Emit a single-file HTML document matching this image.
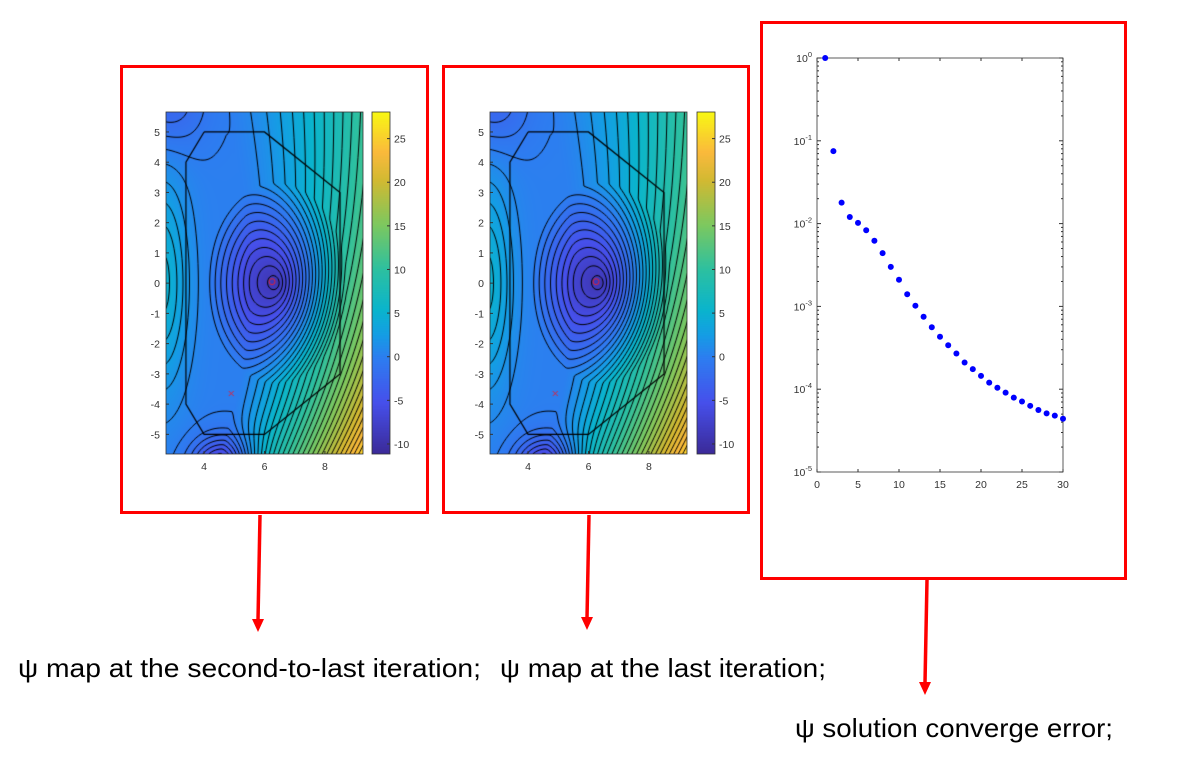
<!DOCTYPE html>
<html><head><meta charset="utf-8">
<style>
html,body{margin:0;padding:0;background:#fff;}
body{width:1188px;height:759px;position:relative;overflow:hidden;font-family:"Liberation Sans",sans-serif;}
.frame{position:absolute;border:3px solid #ff0000;box-sizing:border-box;}
canvas{position:absolute;}
svg{position:absolute;left:0;top:0;}
</style></head>
<body>
<div class="frame" style="left:120px;top:65px;width:309px;height:449px;"></div>
<div class="frame" style="left:442px;top:65px;width:308px;height:449px;"></div>
<div class="frame" style="left:760px;top:21px;width:367px;height:559px;"></div>
<canvas id="c1" width="197" height="342" style="left:166px;top:112px;"></canvas>
<canvas id="c2" width="197" height="342" style="left:490px;top:112px;"></canvas>
<canvas id="cb1" width="18" height="342" style="left:372px;top:112px;"></canvas>
<canvas id="cb2" width="18" height="342" style="left:697px;top:112px;"></canvas>
<svg id="s" width="1188" height="759" xmlns="http://www.w3.org/2000/svg"></svg>
<script>
// convergence data
const iterations=[1,2,3,4,5,6,7,8,9,10,11,12,13,14,15,16,17,18,19,20,21,22,23,24,25,26,27,28,29,30];
const errors=[1,0.075,0.0179,0.012,0.0102,0.0083,0.0062,0.0044,0.003,0.0021,0.0014,0.00102,0.00075,0.00056,0.00043,0.00034,0.00027,0.00021,0.000175,0.000145,0.00012,0.000104,0.000091,0.000079,0.000071,0.000063,0.000056,0.000051,0.000048,0.000044];
const xTicks=[0,5,10,15,20,25,30];
const yExps=[0,-1,-2,-3,-4,-5];
const cbTicks=[-10,-5,0,5,10,15,20,25];
const rTicks=[4,6,8];
const zTicks=[5,4,3,2,1,0,-1,-2,-3,-4,-5];
const wall=[[4,5],[6,5],[8.5,3],[8.5,-3],[6,-5],[4,-5],[3.4,-4],[3.4,4],[4,5]];
const axisPos=[6.25,0.05];
const xPoint=[4.9,-3.65];

const NS="http://www.w3.org/2000/svg";
const svg=document.getElementById('s');
function el(tag,attrs,parent){const e=document.createElementNS(NS,tag);for(const k in attrs)e.setAttribute(k,attrs[k]);(parent||svg).appendChild(e);return e;}

function psi(R,Z,k){
  const rho=Math.sqrt(((R-6.4)/2.3)**2+(Z/3.3)**2);
  let v=-11.5*Math.max(0,1-rho)**1.05;
  const d=Math.max(0,R-5.5+0.03*Z*Z);
  v+=2.4*Math.pow(d,1.3) - 0.28*Z*d;
  v+=5*Math.exp(-((R-2.6)**2/0.8+Z*Z/12));
  v-=7.5*Math.exp(-((R-4.6)**2/1.0+(Z+6.1)**2/0.9));
  v-=3*Math.exp(-((R-2.8)**2/1.5+(Z-6)**2/2.5));
  return v*(k||1);
}
const vmin=-11.15,vmax=28.05;
const stops=[[0,[59,42,152]],[0.15,[70,80,235]],[0.28,[45,125,240]],[0.35,[20,158,228]],[0.42,[10,180,205]],[0.54,[45,192,160]],[0.67,[125,200,95]],[0.8,[210,185,50]],[0.88,[250,185,60]],[1,[248,248,20]]];
function cmap(v){let t=(v-vmin)/(vmax-vmin);t=Math.max(0,Math.min(1,t));for(let i=1;i<stops.length;i++){if(t<=stops[i][0]){const a=stops[i-1],b=stops[i];const f=(t-a[0])/(b[0]-a[0]);return a[1].map((c,j)=>Math.round(c+(b[1][j]-c)*f));}}return stops[stops.length-1][1];}
const W=197,H=342,R0=2.74,R1=9.26,Z0=5.66,Z1=-5.65;
function sx(R){return (R-R0)/(R1-R0)*W;}
function sy(Z){return (Z-Z0)/(Z1-Z0)*H;}
function drawMap(id,k){
  const c=document.getElementById(id),ctx=c.getContext('2d');
  const img=ctx.createImageData(W,H);
  for(let y=0;y<H;y++)for(let x=0;x<W;x++){
    const R=R0+(x+0.5)/W*(R1-R0),Z=Z0+(y+0.5)/H*(Z1-Z0);
    const col=cmap(psi(R,Z,k));const i=(y*W+x)*4;
    img.data[i]=col[0];img.data[i+1]=col[1];img.data[i+2]=col[2];img.data[i+3]=255;}
  ctx.putImageData(img,0,0);
  const st=2,nx=Math.ceil(W/st)+1,ny=Math.ceil(H/st)+1,g=[];
  for(let j=0;j<ny;j++){g.push([]);for(let i=0;i<nx;i++){g[j].push(psi(R0+i*st/W*(R1-R0),Z0+j*st/H*(Z1-Z0),k));}}
  ctx.strokeStyle='#000';ctx.lineWidth=1;ctx.beginPath();
  for(let L=-10.6;L<28;L+=0.95){
    for(let j=0;j<ny-1;j++)for(let i=0;i<nx-1;i++){
      const a=g[j][i],b=g[j][i+1],c2=g[j+1][i+1],d=g[j+1][i];
      const pts=[];
      const e=(p,q,x1,y1,x2,y2)=>{if((p<L)!==(q<L)){const f=(L-p)/(q-p);pts.push([x1+(x2-x1)*f,y1+(y2-y1)*f]);}};
      const X=i*st,Y=j*st;
      e(a,b,X,Y,X+st,Y);e(b,c2,X+st,Y,X+st,Y+st);e(c2,d,X+st,Y+st,X,Y+st);e(d,a,X,Y+st,X,Y);
      for(let m=0;m+1<pts.length;m+=2){ctx.moveTo(pts[m][0],pts[m][1]);ctx.lineTo(pts[m+1][0],pts[m+1][1]);}
    }
  }
  ctx.stroke();
  ctx.lineWidth=1.2;ctx.beginPath();
  wall.forEach((p,i)=>{i?ctx.lineTo(sx(p[0]),sy(p[1])):ctx.moveTo(sx(p[0]),sy(p[1]));});ctx.stroke();
  ctx.lineWidth=1;ctx.strokeStyle='#e0203a';ctx.beginPath();ctx.arc(sx(axisPos[0]),sy(axisPos[1]),3,0,7);ctx.stroke();
  const xx=sx(xPoint[0]),xy=sy(xPoint[1]);ctx.beginPath();ctx.moveTo(xx-2.5,xy-2.5);ctx.lineTo(xx+2.5,xy+2.5);ctx.moveTo(xx+2.5,xy-2.5);ctx.lineTo(xx-2.5,xy+2.5);ctx.stroke();
}
drawMap('c1',1);drawMap('c2',1.0);
['cb1','cb2'].forEach(id=>{const c=document.getElementById(id),ctx=c.getContext('2d');for(let y=0;y<H;y++){const v=vmax-(y+0.5)/H*(vmax-vmin);const col=cmap(v);ctx.fillStyle=`rgb(${col})`;ctx.fillRect(0,y,18,1);}});

function mapAxes(ox,cbx,name){
  el('rect',{x:ox,y:112,width:W,height:H,fill:'none',stroke:'#333','stroke-width':0.8,});
  rTicks.forEach(r=>{const x=ox+sx(r);el('line',{x1:x,y1:454,x2:x,y2:451,stroke:'#333'});const t=el('text',{x:x,y:470,'font-size':10.5,'text-anchor':'middle',fill:'#333',});t.textContent=r;});
  zTicks.forEach(z=>{const y=112+sy(z);el('line',{x1:ox,y1:y,x2:ox+3,y2:y,stroke:'#333'});const t=el('text',{x:ox-6,y:y+4,'font-size':10.5,'text-anchor':'end',fill:'#333',});t.textContent=z;});
  el('rect',{x:cbx,y:112,width:18,height:H,fill:'none',stroke:'#333','stroke-width':0.8});
  cbTicks.forEach(v=>{const y=112+(vmax-v)/(vmax-vmin)*H;el('line',{x1:cbx+15,y1:y,x2:cbx+18,y2:y,stroke:'#333'});const t=el('text',{x:cbx+22,y:y+4,'font-size':10.5,fill:'#333',});t.textContent=v;});
}
mapAxes(166,372,'map1');mapAxes(490,697,'map2');

const L=817,Rr=1063,T=58,B=472;
const xs=v=>L+v/30*(Rr-L);
const ys=v=>T+(-Math.log10(v))/5*(B-T);
el('rect',{x:L,y:T,width:Rr-L,height:B-T,fill:'none',stroke:'#333','stroke-width':0.8,});
xTicks.forEach(v=>{const x=xs(v);el('line',{x1:x,y1:B,x2:x,y2:B-3,stroke:'#333'});el('line',{x1:x,y1:T,x2:x,y2:T+3,stroke:'#333'});const t=el('text',{x:x,y:B+16,'font-size':10.5,'text-anchor':'middle',fill:'#333',});t.textContent=v;});
yExps.forEach(e=>{const y=ys(Math.pow(10,e));el('line',{x1:L,y1:y,x2:L+4,y2:y,stroke:'#333'});el('line',{x1:Rr,y1:y,x2:Rr-4,y2:y,stroke:'#333'});
  if(e>-5)for(let m=2;m<10;m++){const yy=ys(m*Math.pow(10,e-1));el('line',{x1:L,y1:yy,x2:L+2,y2:yy,stroke:'#333'});el('line',{x1:Rr,y1:yy,x2:Rr-2,y2:yy,stroke:'#333'});}
  const t=el('text',{x:L-5,y:y+4,'font-size':10.5,'text-anchor':'end',fill:'#333',});t.textContent='10';const s=el('tspan',{dy:-5,'font-size':7.5},t);s.textContent=e;});
iterations.forEach((it,i)=>{const c=el('circle',{cx:xs(it),cy:ys(errors[i]),r:3,fill:'#0000ff'});

});

[[260,515,258,632],[589,515,587,630],[927,580,925,695]].forEach(a=>{el('line',{x1:a[0],y1:a[1],x2:a[2],y2:a[3]-12,stroke:'#ff0000','stroke-width':3.5,});el('polygon',{points:`${a[2]-6},${a[3]-13} ${a[2]+6},${a[3]-13} ${a[2]},${a[3]}`,fill:'#ff0000'});});

[[18,677,463,'ψ map at the second-to-last iteration;','caption-second-to-last'],[500,677,326,'ψ map at the last iteration;','caption-last'],[795,737,318,'ψ solution converge error;','caption-converge']].forEach(c=>{const t=el('text',{x:c[0],y:c[1],'font-size':26,textLength:c[2],lengthAdjust:'spacingAndGlyphs',fill:'#000',});t.textContent=c[3];});
</script>
</body></html>
